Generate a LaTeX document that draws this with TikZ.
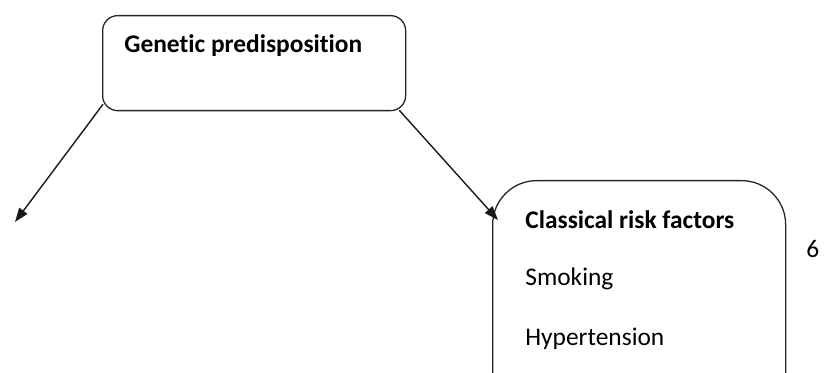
\documentclass[tikz,border=0pt]{standalone}
\usepackage{fontspec}
\setmainfont[Ligatures=NoCommon]{Carlito}
\usetikzlibrary{positioning,arrows.meta}

\begin{document}
\begin{tikzpicture}[
		x=0.5pt,y=-0.5pt,
		box/.style={draw=black!85,line width=0.65pt,inner sep=0pt},
		heading/.style={font=\fontsize{12.7}{15}\selectfont\bfseries,anchor=base west,inner sep=0pt},
		item/.style={font=\fontsize{12.7}{15}\selectfont,anchor=base west,inner sep=0pt},
		link/.style={-{Triangle[length=7pt,width=5pt]},line width=0.7pt,black!90}
	]
		\useasboundingbox (0,0) rectangle (829,373);
		\clip (0,0) rectangle (829,373);

		% Top box.
		\node[box,rounded corners=7.5pt,minimum width=151.5pt,minimum height=47.5pt,anchor=north west]
			(gene) at (102,15) {};
		\node[heading] (geneText) at ([shift={(22,38)}]gene.north west) {Genetic predisposition};

		% Right box, running past the lower edge.
		\node[box,rounded corners=22pt,minimum width=146.5pt,minimum height=140pt,anchor=north west]
			(risk) at (492,180) {};
		\node[heading] (riskText) at ([shift={(33,49)}]risk.north west) {Classical risk factors};
		\node[item] (smoking) at ([shift={(33,106)}]risk.north west) {Smoking};
		\node[item] (hyper) at ([shift={(33,165)}]risk.north west) {Hypertension};

		\node[item] (pageNo) at (806,258) {6};

		% Arrows leaving the top box.
		\coordinate (leftEnd) at (15,222);
		\draw[link] ([shift={(1,-7)}]gene.south west) -- (leftEnd);
		\draw[link] ([shift={(-7,-1)}]gene.south east) -- ([shift={(6,40)}]risk.north west);
	\end{tikzpicture}
\end{document}
